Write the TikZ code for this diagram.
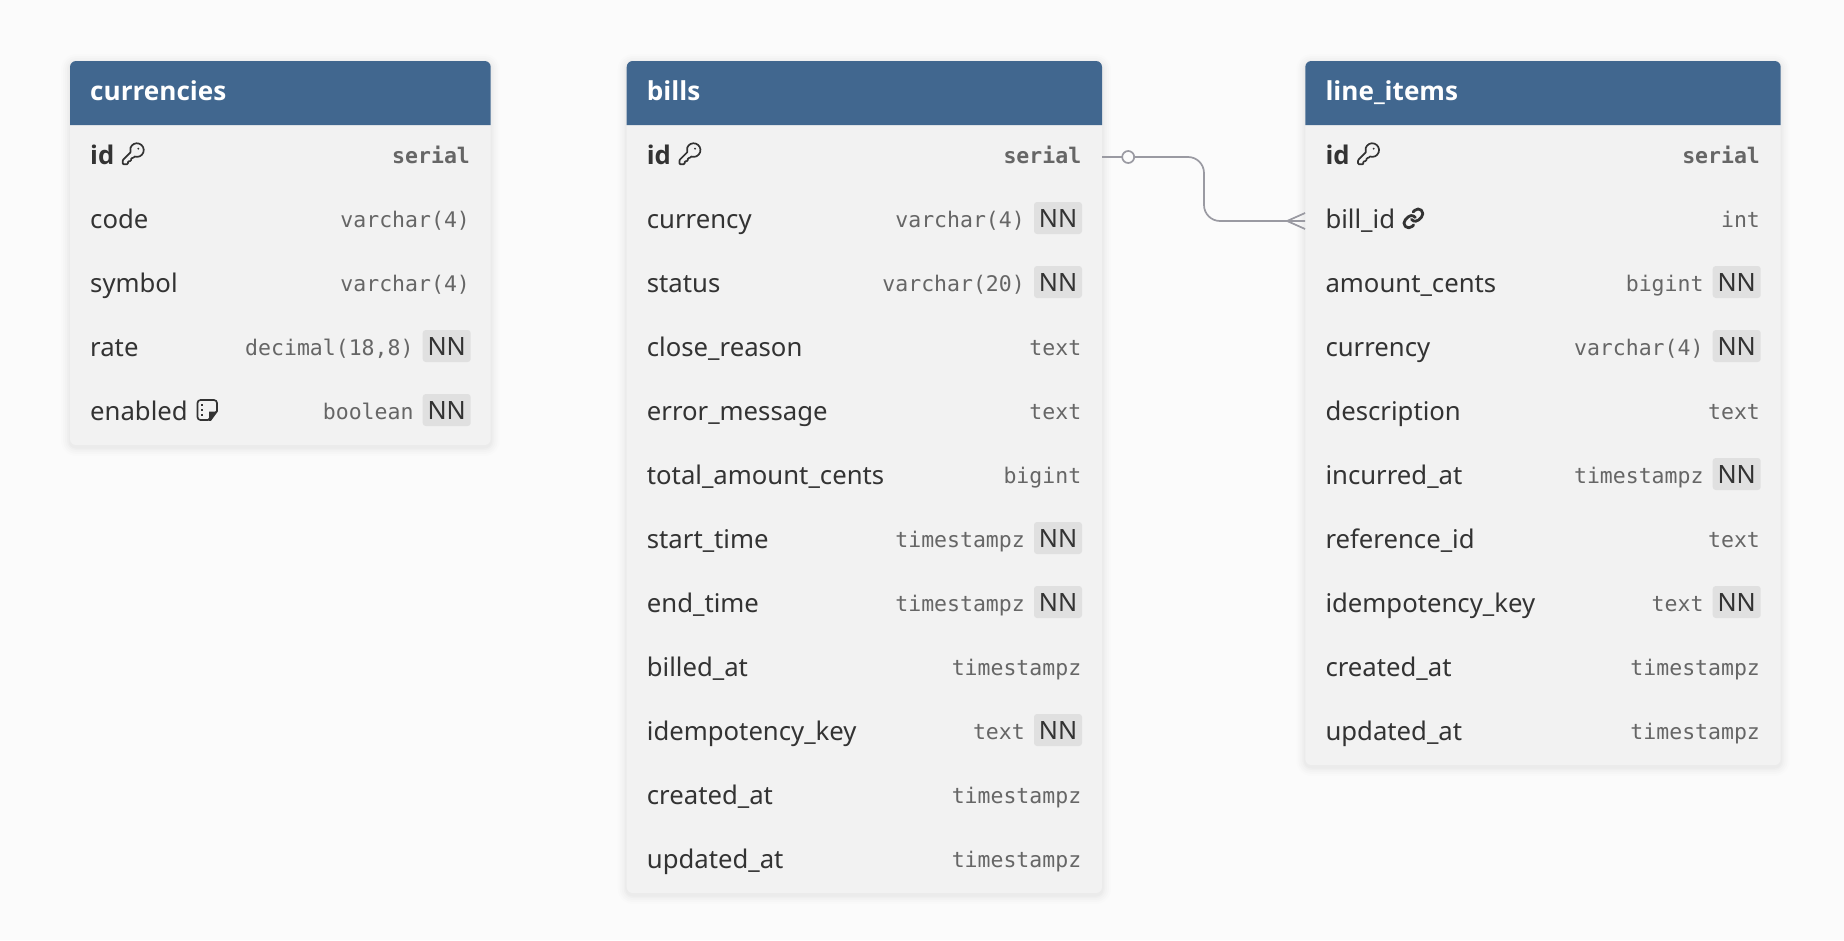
\documentclass[tikz,border=0pt]{standalone}
\usepackage{fontspec}
\setmainfont{Noto Sans}
\newfontfamily\boldf{Open Sans}
\newfontfamily\monof{DejaVu Sans Mono}
\usetikzlibrary{svg.path}
\definecolor{pagebg}{HTML}{FBFBFB}
\definecolor{hdrblue}{HTML}{41678F}
\definecolor{bodygrey}{HTML}{F2F2F2}
\definecolor{badgegrey}{HTML}{E0E0E0}
\definecolor{nametxt}{HTML}{333333}
\definecolor{typetxt}{HTML}{666666}
\definecolor{connc}{HTML}{9A9AA2}
\newcommand{\namefs}{\fontsize{25.7}{30}\selectfont}
\newcommand{\nnfs}{\fontsize{25.2}{30}\selectfont}
\newcommand{\hdrfs}{\fontsize{26.1}{30}\selectfont\boldf\bfseries}
\newcommand{\typefs}{\fontsize{21.5}{26}\selectfont\monof}
\tikzset{
  x=1pt,y=-1pt,
  namelbl/.style={anchor=base west,inner sep=0pt,text=nametxt,font=\namefs},
  typelbl/.style={anchor=base east,inner sep=0pt,text=typetxt,font=\typefs},
  hdrlbl/.style={anchor=base west,inner sep=0pt,text=white,font=\hdrfs},
  rowbox/.style={rectangle,inner sep=0pt,minimum height=64pt},
  nnbox/.style={rectangle,fill=badgegrey,rounded corners=3pt,minimum width=48pt,minimum height=32pt,inner sep=0pt},
  tablebody/.style={rectangle,fill=bodygrey,rounded corners=6pt,inner sep=0pt},
  conn/.style={draw=connc,line width=1.7pt},
  iconline/.style={draw=nametxt,line width=1.9pt,line cap=round,line join=round},
}
% \dbtable{id}{left}{right}{bottom}{title}
\newcommand{\dbtable}[5]{%
  \foreach \k/\o in {9/.009,7/.011,5/.012,3/.014,1.5/.015}{
    \fill[black,opacity=\o,rounded corners={6+\k*1pt}] (#2-\k,61-\k+2) rectangle (#3+\k,#4+\k+2);}
  \node[tablebody,minimum width={#3-#2},minimum height={#4-61}] (#1) at ({(#2+#3)/2},{(61+#4)/2}) {};
  \fill[hdrblue,rounded corners=6pt] (#2,125) -- (#2,61) -- (#3,61) -- (#3,125);
  \node[hdrlbl] (#1-title) at (#2+20,100) {#5};
}
% \dbrow{table id}{row key}{left}{right}{row index}{name}{type}
\newcommand{\dbrow}[7]{%
  \node[rowbox,minimum width={#4-#3}] (#1-#2) at ({(#3+#4)/2},{125+64*(#5-.5)}) {};
  \node[namelbl] (#1-#2-name) at (#3+20,{125+64*(#5-.5)+7.2}) {#6};
  \node[typelbl] (#1-#2-type) at (#4-20.6,{125+64*(#5-.5)+6.5}) {#7};
}
% \dbrownn: same, with NN badge
\newcommand{\dbrownn}[7]{%
  \node[rowbox,minimum width={#4-#3}] (#1-#2) at ({(#3+#4)/2},{125+64*(#5-.5)}) {};
  \node[namelbl] (#1-#2-name) at (#3+20,{125+64*(#5-.5)+7.2}) {#6};
  \node[typelbl] (#1-#2-type) at (#4-77,{125+64*(#5-.5)+6.5}) {#7};
  \node[nnbox] (#1-#2-nn) at (#4-44,{125+64*(#5-.5)-3}) {};
  \node[anchor=base,inner sep=0pt,text=nametxt,font=\nnfs] (#1-#2-nnt) at (#4-44,{125+64*(#5-.5)+6}) {NN};
}
\newcommand{\keyicon}[2]{%
  \begin{scope}[shift={(#1,#2)},yscale=-1,scale=1.05]
    \draw[iconline,line width=1.7pt] (0,0) svg {M 2.586 17.414 A 2 2 0 0 0 2 18.828 V 21 a 1 1 0 0 0 1 1 h 3 a 1 1 0 0 0 1 -1 v -1 a 1 1 0 0 1 1 -1 h 1 a 1 1 0 0 0 1 -1 v -1 a 1 1 0 0 1 1 -1 h 0.172 a 2 2 0 0 0 1.414 -0.586 l 0.814 -0.814 a 6.5 6.5 0 1 0 -4 -4 z};
    \fill[nametxt] (0,0) svg {M 17.9 7.1 a 1 1 0 1 0 -2 0 a 1 1 0 1 0 2 0 z};
  \end{scope}}
\newcommand{\linkicon}[2]{%
  \begin{scope}[shift={(#1,#2)},yscale=-1,scale=0.95]
    \draw[iconline,line width=2.8pt] (0,0) svg {M 10 13 a 5 5 0 0 0 7.54 0.54 l 3 -3 a 5 5 0 0 0 -7.07 -7.07 l -1.72 1.71};
    \draw[iconline,line width=2.8pt] (0,0) svg {M 14 11 a 5 5 0 0 0 -7.54 -0.54 l -3 3 a 5 5 0 0 0 7.07 7.07 l 1.71 -1.71};
  \end{scope}}
\begin{document}
\begin{tikzpicture}
\useasboundingbox[fill=pagebg] (0,0) rectangle (1844,940);

% ---- currencies
\dbtable{cur}{70}{490.7}{445}{currencies}
\dbrow{cur}{id}{70}{490.7}{1}{\boldf\bfseries id}{\bfseries serial}
\keyicon{120.6}{141.2}
\dbrow{cur}{code}{70}{490.7}{2}{code}{varchar(4)}
\dbrow{cur}{symbol}{70}{490.7}{3}{symbol}{varchar(4)}
\dbrownn{cur}{rate}{70}{490.7}{4}{rate}{decimal(18,8)}
\dbrownn{cur}{enabled}{70}{490.7}{5}{enabled}{boolean}
\draw[iconline,line width=1.7pt,rounded corners=3pt] (217,411) -- (217,400) -- (197.5,400) -- (197.5,420) -- (208,420);
\fill[nametxt] (217.8,411.5) -- (209.2,411.5) -- (209.2,420.8) -- (211,420.8) -- cycle;
\draw[nametxt,line width=1.7pt,line cap=round] (208,420) -- (217,411);
\fill[nametxt] (201,403.8) rectangle (203.2,406);
\fill[nametxt] (201,408.8) rectangle (203.2,411);
\fill[nametxt] (201,413.8) rectangle (203.2,416);

% ---- bills
\dbtable{bills}{626.7}{1102}{893}{bills}
\dbrow{bills}{id}{626.7}{1102}{1}{\boldf\bfseries id}{\bfseries serial}
\keyicon{677.3}{141.2}
\dbrownn{bills}{currency}{626.7}{1102}{2}{currency}{varchar(4)}
\dbrownn{bills}{status}{626.7}{1102}{3}{status}{varchar(20)}
\dbrow{bills}{closereason}{626.7}{1102}{4}{close\_reason}{text}
\dbrow{bills}{errormessage}{626.7}{1102}{5}{error\_message}{text}
\dbrow{bills}{total}{626.7}{1102}{6}{total\_amount\_cents}{bigint}
\dbrownn{bills}{start}{626.7}{1102}{7}{start\_time}{timestampz}
\dbrownn{bills}{end}{626.7}{1102}{8}{end\_time}{timestampz}
\dbrow{bills}{billed}{626.7}{1102}{9}{billed\_at}{timestampz}
\dbrownn{bills}{idem}{626.7}{1102}{10}{idempotency\_key}{text}
\dbrow{bills}{created}{626.7}{1102}{11}{created\_at}{timestampz}
\dbrow{bills}{updated}{626.7}{1102}{12}{updated\_at}{timestampz}

% ---- line_items
\dbtable{items}{1305.3}{1780.7}{765}{line\_items}
\dbrow{items}{id}{1305.3}{1780.7}{1}{\boldf\bfseries id}{\bfseries serial}
\keyicon{1355.9}{141.2}
\dbrow{items}{billid}{1305.3}{1780.7}{2}{bill\_id}{int}
\linkicon{1402}{207}
\dbrownn{items}{amount}{1305.3}{1780.7}{3}{amount\_cents}{bigint}
\dbrownn{items}{currency}{1305.3}{1780.7}{4}{currency}{varchar(4)}
\dbrow{items}{description}{1305.3}{1780.7}{5}{description}{text}
\dbrownn{items}{incurred}{1305.3}{1780.7}{6}{incurred\_at}{timestampz}
\dbrow{items}{reference}{1305.3}{1780.7}{7}{reference\_id}{text}
\dbrownn{items}{idem}{1305.3}{1780.7}{8}{idempotency\_key}{text}
\dbrow{items}{created}{1305.3}{1780.7}{9}{created\_at}{timestampz}
\dbrow{items}{updated}{1305.3}{1780.7}{10}{updated\_at}{timestampz}

% ---- connector
\coordinate (bend) at (1204,189);
\draw[conn,rounded corners=16pt] (bills-id.east) -| (bend) |- (items-billid.west);
\node[circle,draw=connc,line width=1.7pt,fill=pagebg,minimum size=12pt,inner sep=0pt] (optmark) at ([xshift=26pt]bills-id.east) {};
\coordinate (crowtip) at ([xshift=-18pt]items-billid.west);
\draw[conn] ([yshift=8pt]items-billid.west) -- (crowtip) -- ([yshift=-8pt]items-billid.west);
\end{tikzpicture}
\end{document}
